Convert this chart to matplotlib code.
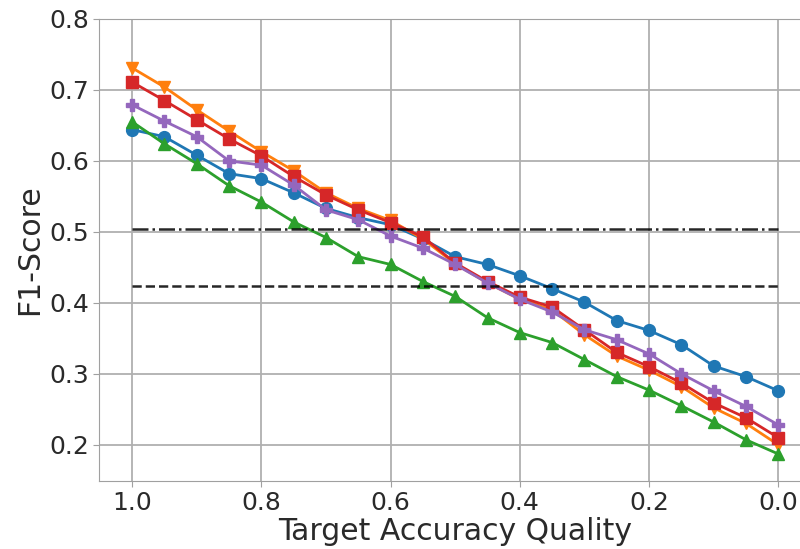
import numpy as np
import matplotlib
matplotlib.use("Agg")
import matplotlib.pyplot as plt

# target accuracy quality, 1.0 -> 0.0 in steps of 0.05
quality = [1.0, 0.95, 0.9, 0.85, 0.8, 0.75, 0.7, 0.65, 0.6, 0.55, 0.5,
           0.45, 0.4, 0.35, 0.3, 0.25, 0.2, 0.15, 0.1, 0.05, 0.0]

blue = [0.644, 0.634, 0.608, 0.582, 0.575, 0.555, 0.533, 0.520, 0.510, 0.490, 0.465,
        0.454, 0.438, 0.420, 0.401, 0.375, 0.361, 0.341, 0.311, 0.296, 0.276]
orange = [0.731, 0.704, 0.672, 0.642, 0.613, 0.586, 0.555, 0.533, 0.516, 0.490, 0.455,
          0.428, 0.405, 0.390, 0.355, 0.325, 0.305, 0.282, 0.252, 0.230, 0.200]
green = [0.655, 0.624, 0.596, 0.565, 0.542, 0.514, 0.492, 0.465, 0.454, 0.430, 0.409,
         0.379, 0.358, 0.344, 0.320, 0.296, 0.277, 0.255, 0.232, 0.207, 0.187]
red = [0.711, 0.685, 0.658, 0.631, 0.607, 0.578, 0.552, 0.531, 0.513, 0.493, 0.456,
       0.430, 0.408, 0.394, 0.362, 0.330, 0.310, 0.287, 0.259, 0.238, 0.210]
purple = [0.679, 0.656, 0.634, 0.600, 0.594, 0.566, 0.531, 0.517, 0.494, 0.477, 0.454,
          0.428, 0.405, 0.387, 0.362, 0.348, 0.328, 0.300, 0.276, 0.254, 0.228]

series = [(blue, "tab:blue", "o"), (orange, "tab:orange", "v"),
          (green, "tab:green", "^"), (red, "tab:red", "s"),
          (purple, "tab:purple", "P")]

dashdot_level = 0.504
dashed_level = 0.423

fig = plt.figure(figsize=(8, 5.49), dpi=100)
ax = fig.add_axes([0.124, 0.124, 0.89, 0.8415])

for vals, col, mk in series:
    ax.plot(quality, vals, color=col, marker=mk, markersize=8.5, linewidth=2)

ax.hlines(dashdot_level, 1.0, 0.0, colors="black", linestyles="-.", linewidth=1.8, alpha=0.85)
ax.hlines(dashed_level, 1.0, 0.0, colors="black", linestyles="--", linewidth=1.8, alpha=0.85)

ax.set_xlim(1.051, -0.051)
ax.set_ylim(0.149, 0.8)
ax.set_xticks([1.0, 0.8, 0.6, 0.4, 0.2, 0.0])
ax.set_yticks([0.2, 0.3, 0.4, 0.5, 0.6, 0.7, 0.8])
ax.grid(True, color="#b0b0b0", linewidth=1.3)
ax.set_axisbelow(True)
for s in ax.spines.values():
    s.set_color("#a0a0a0")
ax.tick_params(labelsize=18, colors="#a0a0a0", labelcolor="#2a2a2a", length=4, pad=3)
ax.set_xlabel("Target Accuracy Quality", fontsize=21.5, color="#2a2a2a", labelpad=2)
ax.set_ylabel("F1-Score", fontsize=21.5, color="#2a2a2a", labelpad=4)

fig.savefig("out.png", dpi=100)
